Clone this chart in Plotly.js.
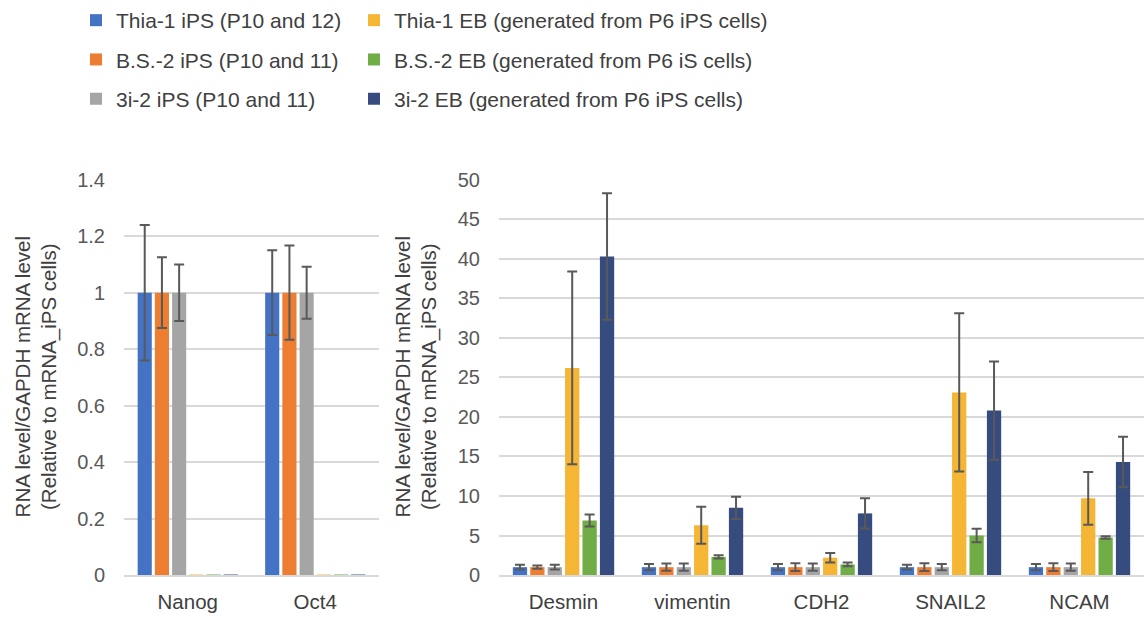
<!DOCTYPE html>
<html>
<head>
<meta charset="utf-8">
<script src="https://cdn.plot.ly/plotly-3.0.1.min.js"></script>
<style>html,body{margin:0;padding:0;background:#fff;}#chart{width:1144px;height:620px;}</style>
</head>
<body>
<div id="chart"></div>
<script>
// Categories
const leftGenes = ["Nanog", "Oct4"];
const rightGenes = ["Desmin", "vimentin", "CDH2", "SNAIL2", "NCAM"];

// Series names
const seriesNames = [
  "Thia-1 iPS (P10 and 12)",
  "B.S.-2 iPS (P10 and 11)",
  "3i-2 iPS (P10 and 11)",
  "Thia-1 EB (generated from P6 iPS cells)",
  "B.S.-2 EB (generated from P6 iS cells)",
  "3i-2 EB (generated from P6 iPS cells)"
];
const seriesColors = ["#4472C4", "#ED7D31", "#A5A5A5", "#F5B535", "#70AD47", "#374C7E"];

// Left panel (pluripotency genes): values and error
const leftThiaIPS = [1, 1];
const leftThiaIPSErr = [0.24, 0.15];
const leftBSIPS = [1, 1];
const leftBSIPSErr = [0.125, 0.167];
const left3iIPS = [1, 1];
const left3iIPSErr = [0.1, 0.092];
const leftThiaEB = [0.002, 0.002];
const leftBSEB = [0.002, 0.002];
const left3iEB = [0.002, 0.002];

// Right panel (differentiation genes): values and error
const rightThiaIPS = [1, 1, 1, 1, 1];
const rightThiaIPSErr = [0.3, 0.4, 0.4, 0.3, 0.4];
const rightBSIPS = [1, 1, 1, 1, 1];
const rightBSIPSErr = [0.2, 0.45, 0.5, 0.5, 0.5];
const right3iIPS = [1, 1, 1, 1, 1];
const right3iIPSErr = [0.3, 0.45, 0.45, 0.4, 0.45];
const rightThiaEB = [26.2, 6.3, 2.2, 23.1, 9.7];
const rightThiaEBErr = [12.2, 2.35, 0.6, 10, 3.35];
const rightBSEB = [6.9, 2.3, 1.35, 5.0, 4.75];
const rightBSEBErr = [0.75, 0.2, 0.25, 0.85, 0.15];
const right3iEB = [40.3, 8.5, 7.8, 20.8, 14.3];
const right3iEBErr = [8, 1.4, 1.9, 6.2, 3.2];

const leftVals = [leftThiaIPS, leftBSIPS, left3iIPS, leftThiaEB, leftBSEB, left3iEB];
const leftErrs = [leftThiaIPSErr, leftBSIPSErr, left3iIPSErr, null, null, null];
const rightVals = [rightThiaIPS, rightBSIPS, right3iIPS, rightThiaEB, rightBSEB, right3iEB];
const rightErrs = [rightThiaIPSErr, rightBSIPSErr, right3iIPSErr, rightThiaEBErr, rightBSEBErr, right3iEBErr];

const FONT = "Liberation Sans, Arial, sans-serif";
const errStyle = (arr) => arr ? {type: "data", array: arr, visible: true, color: "#595959", thickness: 2, width: 5} : {visible: false};

const traces = [];
seriesNames.forEach((name, i) => {
  traces.push({
    type: "bar", name: name, x: leftGenes, y: leftVals[i],
    error_y: errStyle(leftErrs[i]),
    marker: {color: seriesColors[i]},
    xaxis: "x", yaxis: "y",
    legend: i < 3 ? "legend" : "legend2",
    legendgroup: "g" + i, showlegend: true,
    hoverinfo: "skip"
  });
});
seriesNames.forEach((name, i) => {
  traces.push({
    type: "bar", name: name, x: rightGenes, y: rightVals[i],
    error_y: errStyle(rightErrs[i]),
    marker: {color: seriesColors[i]},
    xaxis: "x2", yaxis: "y2",
    legendgroup: "g" + i, showlegend: false,
    hoverinfo: "skip"
  });
});

const yDom = [1 - 575 / 620, 1 - 179 / 620];
const axisFont = {family: FONT, size: 20, color: "#595959"};
const catFont = {family: FONT, size: 20.5, color: "#404040"};
const yTitle = "RNA level/GAPDH mRNA level<br>(Relative to mRNA_iPS cells)";

const legendBase = {
  orientation: "v", xanchor: "left", yanchor: "top",
  bgcolor: "rgba(0,0,0,0)", borderwidth: 0,
  font: {family: FONT, size: 21, color: "#404040"},
  traceorder: "grouped", tracegroupgap: 9, itemwidth: 30
};

const layout = {
  width: 1144, height: 620,
  margin: {l: 0, r: 0, t: 0, b: 0},
  paper_bgcolor: "#fff", plot_bgcolor: "#fff",
  font: {family: FONT, size: 20, color: "#595959"},
  barmode: "group", bargap: 0.19, bargroupgap: 0.18,
  showlegend: true,
  legend: Object.assign({}, legendBase, {x: 76 / 1144, y: 1}),
  legend2: Object.assign({}, legendBase, {x: 354 / 1144, y: 1 + 1.5 / 620}),
  xaxis: {domain: [124 / 1144, 379 / 1144], anchor: "y", showgrid: false, showline: true,
    linecolor: "#D9D9D9", linewidth: 2, ticks: "", tickfont: catFont,
    ticklabelstandoff: 7, fixedrange: true},
  yaxis: {domain: yDom, anchor: "x", range: [0, 1.4], dtick: 0.2, tick0: 0, showgrid: true,
    gridcolor: "#D9D9D9", gridwidth: 2, zeroline: false, showline: false, ticks: "",
    tickfont: axisFont, ticklabelstandoff: 18, fixedrange: true},
  xaxis2: {domain: [499 / 1144, 1], anchor: "y2", showgrid: false, showline: true,
    linecolor: "#D9D9D9", linewidth: 2, ticks: "", tickfont: catFont,
    ticklabelstandoff: 7, fixedrange: true},
  yaxis2: {domain: yDom, anchor: "x2", range: [0, 50], dtick: 5, tick0: 0, showgrid: true,
    gridcolor: "#D9D9D9", gridwidth: 2, zeroline: false, showline: false, ticks: "",
    tickfont: axisFont, ticklabelstandoff: 18, fixedrange: true},
  annotations: [
    {text: yTitle, xref: "paper", yref: "paper", x: 36 / 1144, y: 1 - 377 / 620,
      xanchor: "center", yanchor: "middle", textangle: -90, showarrow: false,
      font: {family: FONT, size: 20.5, color: "#404040"}},
    {text: yTitle, xref: "paper", yref: "paper", x: 416 / 1144, y: 1 - 377 / 620,
      xanchor: "center", yanchor: "middle", textangle: -90, showarrow: false,
      font: {family: FONT, size: 20.5, color: "#404040"}}
  ]
};

Plotly.newPlot("chart", traces, layout, {displayModeBar: false, staticPlot: true});
</script>
</body>
</html>
